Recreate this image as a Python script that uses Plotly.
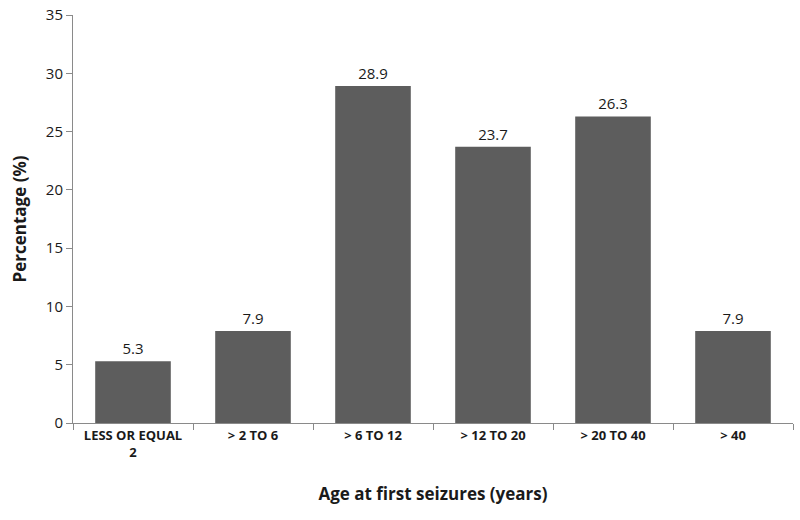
import plotly.graph_objects as go

categories = ["LESS OR EQUAL<br>2", "> 2 TO 6", "> 6 TO 12", "> 12 TO 20", "> 20 TO 40", "> 40"]
values = [5.3, 7.9, 28.9, 23.7, 26.3, 7.9]
labels = ["5.3", "7.9", "28.9", "23.7", "26.3", "7.9"]

fig = go.Figure(go.Bar(
    x=categories, y=values, text=labels, textposition="outside",
    marker=dict(color="#5d5d5d", line=dict(width=0)),
    textfont=dict(size=15, color="#1a1a1a", family="Open Sans"),
    cliponaxis=False, width=0.63,
))

fig.update_layout(
    width=800, height=520,
    margin=dict(l=73, r=7, t=15, b=97),
    paper_bgcolor="white", plot_bgcolor="white",
    font=dict(family="Open Sans", color="#1a1a1a"),
    showlegend=False,
    xaxis=dict(
        automargin=False,
        showline=True, linecolor="#8a8a8a", linewidth=1,
        ticks="outside", tickson="boundaries", ticklen=6, tickcolor="#8a8a8a",
        tickfont=dict(size=13, family="Open Sans", weight="bold"),
        title=dict(text="<b>Age at first seizures (years)</b>", font=dict(size=17), standoff=28),
    ),
    yaxis=dict(
        automargin=False,
        range=[0, 35], dtick=5, showgrid=False, zeroline=False,
        showline=True, linecolor="#8a8a8a", linewidth=1,
        ticks="outside", ticklen=6, tickcolor="#8a8a8a",
        tickfont=dict(size=15, family="Open Sans"),
        title=dict(text="<b>Percentage (%)</b>", font=dict(size=17), standoff=14),
    ),
)

fig.write_html("out.html", config={"displayModeBar": False},
               post_script="document.body.style.margin='0';")
